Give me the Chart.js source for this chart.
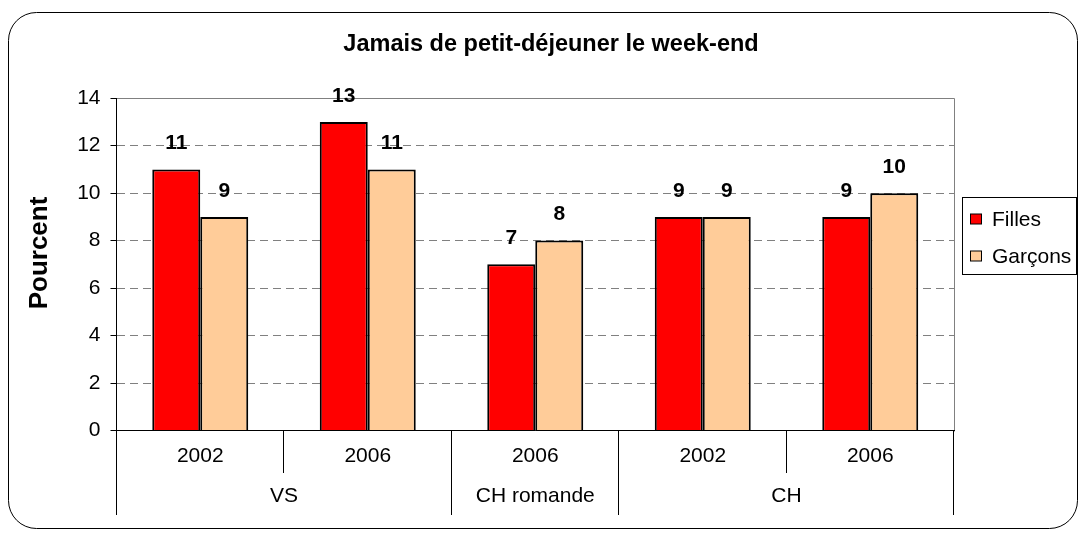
<!DOCTYPE html>
<html><head><meta charset="utf-8">
<script src="https://cdn.jsdelivr.net/npm/chart.js@4.4.1/dist/chart.umd.min.js"></script>
<style>html,body{margin:0;padding:0;background:#fff}#wrap{width:1082px;height:534px;position:relative}</style>
</head><body><div id="wrap"><canvas id="c"></canvas></div>
<script>
const TITLE = 'Jamais de petit-déjeuner le week-end';
const Y_TITLE = 'Pourcent';
const years = ['2002', '2006', '2006', '2002', '2006'];
const groups = ['VS', 'CH romande', 'CH'];
const groupSpans = [2, 1, 2];
const seriesNames = ['Filles', 'Garçons'];
const filles = [11, 13, 7, 9, 9];
const garcons = [9, 11, 8, 9, 10];
const yTicks = [0, 2, 4, 6, 8, 10, 12, 14];
const colors = ['#FF0000', '#FFCC99'];

const FONT = '"Liberation Sans", Arial, Helvetica, sans-serif';
Chart.defaults.font.family = FONT;
Chart.defaults.color = '#000';

function roundRectPath(ctx, x, y, w, h, r) {
  ctx.beginPath();
  ctx.moveTo(x + r, y);
  ctx.lineTo(x + w - r, y);
  ctx.arcTo(x + w, y, x + w, y + r, r);
  ctx.lineTo(x + w, y + h - r);
  ctx.arcTo(x + w, y + h, x + w - r, y + h, r);
  ctx.lineTo(x + r, y + h);
  ctx.arcTo(x, y + h, x, y + h - r, r);
  ctx.lineTo(x, y + r);
  ctx.arcTo(x, y, x + r, y, r);
  ctx.closePath();
}

const decor = {
  id: 'decor',
  beforeDraw(chart) {
    const ctx = chart.ctx;
    ctx.save();
    ctx.fillStyle = '#fff';
    ctx.fillRect(0, 0, chart.width, chart.height);
    ctx.strokeStyle = '#000';
    ctx.lineWidth = 1;
    roundRectPath(ctx, 8.5, 12.5, 1069, 516, 28);
    ctx.stroke();
    ctx.restore();
  },
  beforeDatasetsDraw(chart) {
    const {ctx, chartArea: a} = chart;
    ctx.save();
    ctx.strokeStyle = '#808080';
    ctx.lineWidth = 1;
    const t = Math.round(a.top) + 0.5, r = Math.round(a.right) + 0.5, b = Math.round(a.bottom) + 0.5, l = Math.round(a.left) + 0.5;
    ctx.beginPath();
    ctx.moveTo(l, t); ctx.lineTo(r, t); ctx.lineTo(r, b);
    ctx.stroke();
    ctx.restore();
  },
  afterDraw(chart) {
    const ctx = chart.ctx;
    const xs = chart.scales.x;
    ctx.save();
    // y axis title
    ctx.save();
    ctx.translate(40, 253);
    ctx.rotate(-Math.PI / 2);
    ctx.font = 'bold 26px ' + FONT;
    ctx.fillStyle = '#000';
    ctx.textAlign = 'center';
    ctx.textBaseline = 'middle';
    ctx.fillText(Y_TITLE, 0, 0);
    ctx.restore();
    // data labels
    ctx.font = 'bold 21px ' + FONT;
    ctx.fillStyle = '#000';
    ctx.textAlign = 'center';
    ctx.textBaseline = 'middle';
    chart.data.datasets.forEach((ds, i) => {
      const meta = chart.getDatasetMeta(i);
      meta.data.forEach((bar, j) => {
        ctx.fillText(String(ds.data[j]), bar.x, bar.y - 26);
      });
    });
    // category separators, group labels
    const n = chart.data.labels.length;
    const w = (xs.right - xs.left) / n;
    const top = Math.round(xs.top);
    ctx.strokeStyle = '#000';
    ctx.lineWidth = 1;
    for (let i = 0; i <= n; i++) {
      const x = Math.round(xs.left + i * w) - 0.5;
      ctx.beginPath();
      ctx.moveTo(x, top);
      ctx.lineTo(x, 473);
      ctx.stroke();
    }
    ctx.font = '21px ' + FONT;
    let k = 0;
    const bounds = [0];
    groups.forEach((g, gi) => {
      const x0 = xs.left + k * w;
      k += groupSpans[gi];
      const x1 = xs.left + k * w;
      bounds.push(k);
      ctx.fillText(g, (x0 + x1) / 2, 496.5);
    });
    bounds.forEach(bk => {
      const x = Math.round(xs.left + bk * w) - 0.5;
      ctx.beginPath();
      ctx.moveTo(x, top);
      ctx.lineTo(x, 515);
      ctx.stroke();
    });
    // legend
    const lx = 962.5, ly = 197.5, lw = 114, lh = 77;
    ctx.strokeStyle = '#000';
    ctx.strokeRect(lx, ly, lw, lh);
    ctx.textAlign = 'left';
    chart.data.datasets.forEach((ds, i) => {
      const cy = 219 + i * 37;
      ctx.fillStyle = ds.backgroundColor;
      ctx.fillRect(970.5, cy - 5, 11, 10);
      ctx.strokeRect(970.5, cy - 5, 11, 10);
      ctx.fillStyle = '#000';
      ctx.fillText(ds.label, 992, cy + 1);
    });
    ctx.restore();
  }
};

new Chart(document.getElementById('c'), {
  type: 'bar',
  data: {
    labels: years,
    datasets: [
      {label: seriesNames[0], data: filles, backgroundColor: colors[0], borderColor: '#000', borderWidth: 2},
      {label: seriesNames[1], data: garcons, backgroundColor: colors[1], borderColor: '#000', borderWidth: 2}
    ]
  },
  options: {
    responsive: true,
    maintainAspectRatio: false,
    animation: false,
    devicePixelRatio: 1,
    categoryPercentage: 0.573,
    barPercentage: 1,
    layout: {padding: {left: 20, right: 0, top: 0, bottom: 0}},
    plugins: {
      legend: {display: false},
      tooltip: {enabled: false},
      title: {display: true, text: TITLE, color: '#000', font: {size: 23.5, weight: 'bold'}, padding: {top: 30, bottom: 40}}
    },
    scales: {
      x: {
        type: 'category',
        offset: true,
        grid: {display: true, drawOnChartArea: false, drawTicks: true, tickLength: 43, tickColor: 'rgba(0,0,0,0)', tickWidth: 1, offset: true},
        border: {display: true, color: '#000', width: 1, z: 1},
        ticks: {color: '#000', font: {size: 21}, padding: -30, maxRotation: 0, autoSkip: false},
        afterFit: s => { s.height = 103.5; }
      },
      y: {
        min: yTicks[0],
        max: yTicks[yTicks.length - 1],
        ticks: {stepSize: yTicks[1] - yTicks[0], color: '#000', font: {size: 21}, padding: 10},
        grid: {color: '#808080', lineWidth: 1, drawTicks: true, tickLength: 6, tickColor: '#000', tickBorderDash: []},
        border: {display: true, color: '#000', width: 1, dash: [8, 5], z: 1},
        title: {display: false, text: Y_TITLE},
        afterFit: s => { s.width = 96.5; }
      },
      y2: {
        position: 'right',
        display: true,
        grid: {display: false},
        ticks: {display: false},
        border: {display: false},
        afterFit: s => { s.width = 128; }
      }
    }
  },
  plugins: [decor]
});
</script>
</body></html>
